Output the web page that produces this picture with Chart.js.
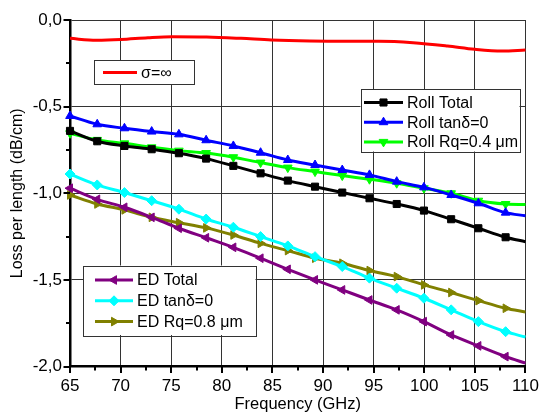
<!DOCTYPE html>
<html>
<head>
<meta charset="utf-8">
<script src="https://cdn.jsdelivr.net/npm/chart.js@4.4.0/dist/chart.umd.min.js"></script>
<style>
  html, body { margin: 0; padding: 0; background: #fff; }
  #wrap { width: 549px; height: 413px; position: relative; }
</style>
</head>
<body>
<div id="wrap"><canvas id="c" width="549" height="413"></canvas></div>
<script>
// ---- data ----
const freq = [65, 67.69, 70.38, 73.07, 75.76, 78.45, 81.14, 83.83, 86.52, 89.21, 91.9, 94.59, 97.28, 99.97, 102.66, 105.35, 108.04, 110];
const rollTotal = [-0.64, -0.70, -0.727, -0.746, -0.769, -0.80, -0.842, -0.885, -0.927, -0.962, -0.996, -1.029, -1.062, -1.10, -1.15, -1.202, -1.254, -1.28];
const rollTanD0 = [-0.554, -0.602, -0.625, -0.644, -0.660, -0.694, -0.727, -0.766, -0.808, -0.837, -0.866, -0.894, -0.933, -0.966, -1.010, -1.058, -1.112, -1.13];
const rollRq04 = [-0.654, -0.692, -0.712, -0.735, -0.754, -0.768, -0.792, -0.823, -0.852, -0.875, -0.898, -0.919, -0.942, -0.971, -1.0, -1.043, -1.062, -1.065];
const edTotal = [-0.971, -1.035, -1.081, -1.139, -1.202, -1.257, -1.312, -1.375, -1.439, -1.500, -1.558, -1.616, -1.673, -1.741, -1.818, -1.881, -1.943, -1.98];
const edTanD0 = [-0.889, -0.952, -0.996, -1.043, -1.092, -1.149, -1.196, -1.250, -1.304, -1.366, -1.423, -1.490, -1.548, -1.606, -1.673, -1.741, -1.799, -1.83];
const edRq08 = [-1.010, -1.062, -1.096, -1.139, -1.170, -1.20, -1.241, -1.289, -1.331, -1.375, -1.404, -1.446, -1.481, -1.529, -1.573, -1.620, -1.664, -1.685];
const sigmaFreq = [65.0, 67.6, 70.0, 72.7, 75.1, 78.5, 81.9, 84.9, 88.7, 92.1, 95.5, 98.9, 102.3, 105.0, 107.7, 110];
const sigmaInf = [-0.106, -0.117, -0.113, -0.102, -0.096, -0.098, -0.106, -0.115, -0.121, -0.123, -0.123, -0.131, -0.150, -0.169, -0.179, -0.173];
const xTickValues = [65, 67.5, 70, 72.5, 75, 77.5, 80, 82.5, 85, 87.5, 90, 92.5, 95, 97.5, 100, 102.5, 105, 107.5, 110];
const yTickValues = [0, -0.25, -0.5, -0.75, -1, -1.25, -1.5, -1.75, -2];
const labels = ['Roll Total', 'Roll tan\u03B4=0', 'Roll Rq=0.4 \u03BCm', 'ED Total', 'ED tan\u03B4=0', 'ED Rq=0.8 \u03BCm', '\u03C3=\u221E'];

const FONT = '"Liberation Sans", Arial, sans-serif';
Chart.defaults.font.family = FONT;
Chart.defaults.font.size = 16;
Chart.defaults.color = '#000';

function pts(xs, ys) { return xs.map((x, i) => ({ x: x, y: ys[i] })); }
const markerR = c => (c.raw && c.raw.x === 110) ? 0 : 5;

function series(label, ys, color, style, rotation) {
  return {
    label: label, data: pts(freq, ys),
    borderColor: color, backgroundColor: color,
    pointBackgroundColor: color, pointBorderColor: color,
    borderWidth: 3, pointBorderWidth: 1,
    pointStyle: style, pointRotation: rotation || 0,
    pointRadius: markerR, pointHoverRadius: markerR,
    cubicInterpolationMode: 'monotone', clip: false
  };
}

const datasets = [
  series(labels[0], rollTotal, '#000000', 'rect', 0),
  series(labels[1], rollTanD0, '#0000ff', 'triangle', 0),
  series(labels[2], rollRq04, '#00ff00', 'triangle', 180),
  series(labels[3], edTotal, '#800080', 'triangle', -90),
  series(labels[4], edTanD0, '#00ffff', 'rectRot', 0),
  series(labels[5], edRq08, '#808000', 'triangle', 90),
  {
    label: labels[6], data: pts(sigmaFreq, sigmaInf),
    borderColor: '#ff0000', backgroundColor: '#ff0000',
    borderWidth: 3, pointRadius: 0, pointStyle: false,
    cubicInterpolationMode: 'monotone', clip: false
  }
];

const groupLegend = {
  id: 'groupLegend',
  afterDatasetsDraw(chart, args, opts) {
    const ctx = chart.ctx;
    opts.groups.forEach(g => {
      ctx.save();
      ctx.fillStyle = '#fff';
      ctx.fillRect(g.x, g.y, g.w, g.h);
      ctx.strokeStyle = '#333';
      ctx.lineWidth = 1;
      ctx.strokeRect(Math.round(g.x) + 0.5, Math.round(g.y) + 0.5, Math.round(g.w), Math.round(g.h));
      g.items.forEach((di, i) => {
        const ds = chart.data.datasets[di];
        const y = g.rowY + i * g.rowH;
        const x0 = g.sx, x1 = g.sx + g.sl;
        ctx.strokeStyle = ds.borderColor;
        ctx.lineWidth = ds.borderWidth;
        ctx.beginPath(); ctx.moveTo(x0, y); ctx.lineTo(x1, y); ctx.stroke();
        if (ds.pointStyle) {
          ctx.fillStyle = ds.pointBackgroundColor;
          ctx.strokeStyle = ds.pointBorderColor;
          ctx.lineWidth = 1;
          Chart.helpers.drawPoint(ctx, { pointStyle: ds.pointStyle, radius: 5, rotation: ds.pointRotation, borderWidth: 1 }, (x0 + x1) / 2, y);
        }
        ctx.fillStyle = '#000';
        ctx.font = '16px ' + FONT;
        ctx.textBaseline = 'middle';
        ctx.textAlign = 'left';
        ctx.fillText(ds.label, x1 + 4, y + 1);
      });
      ctx.restore();
    });
  }
};

const axisTicks = {
  id: 'axisTicks',
  afterDraw(chart) {
    const ctx = chart.ctx, ca = chart.chartArea;
    const xs = chart.scales.x, ys = chart.scales.y;
    ctx.save();
    ctx.strokeStyle = '#000';
    ctx.lineWidth = 2;
    xTickValues.forEach(v => {
      const p = Math.round(xs.getPixelForValue(v));
      const major = Math.abs(v % 5) < 1e-9;
      ctx.beginPath(); ctx.moveTo(p, ca.bottom); ctx.lineTo(p, ca.bottom + (major ? 6.5 : 4)); ctx.stroke();
    });
    yTickValues.forEach(v => {
      const p = Math.round(ys.getPixelForValue(v));
      const major = Math.abs((v * 2) % 1) < 1e-9;
      ctx.beginPath(); ctx.moveTo(ca.left, p); ctx.lineTo(ca.left - (major ? 6.5 : 4), p); ctx.stroke();
    });
    ctx.restore();
  }
};

new Chart(document.getElementById('c'), {
  type: 'line',
  data: { datasets: datasets },
  plugins: [groupLegend, axisTicks],
  options: {
    responsive: false,
    animation: false,
    devicePixelRatio: 1,
    layout: { padding: { top: 20, right: 13.5, left: 0, bottom: 0 } },
    plugins: {
      legend: { display: false },
      tooltip: { enabled: false },
      groupLegend: {
        groups: [
          { items: [6], x: 94, y: 60, w: 100, h: 24, sx: 103, sl: 34, rowY: 72.5, rowH: 20 },
          { items: [0, 1, 2], x: 360.5, y: 89, w: 159, h: 62.5, sx: 364, sl: 39, rowY: 102.5, rowH: 19.7 },
          { items: [3, 4, 5], x: 83, y: 265.5, w: 172.5, h: 69.5, sx: 95, sl: 38, rowY: 280, rowH: 20.8 }
        ]
      }
    },
    scales: {
      x: {
        type: 'linear', min: 65, max: 110,
        ticks: { stepSize: 5, padding: 10, maxRotation: 0, autoSkip: false, font: { size: 17 }, color: '#000' },
        grid: { color: '#333', lineWidth: 1, drawTicks: false },
        border: { display: true, color: '#000', width: 2.5 },
        title: { display: true, text: 'Frequency (GHz)', font: { size: 16.5 }, color: '#000', padding: { top: 0, bottom: -1 } },
        afterFit: s => { s.height = 46.5; }
      },
      y: {
        type: 'linear', min: -2, max: 0,
        ticks: { stepSize: 0.5, padding: 8, font: { size: 17 }, color: '#000',
                 callback: v => v.toFixed(1).replace('.', ',') },
        grid: { color: '#333', lineWidth: 1, drawTicks: false },
        border: { display: true, color: '#000', width: 2.5 },
        title: { display: true, text: 'Loss per length (dB/cm)', font: { size: 16 }, color: '#000', padding: { top: 8, bottom: 0 } },
        afterFit: s => { s.width = 70; }
      }
    }
  }
});
</script>
</body>
</html>
